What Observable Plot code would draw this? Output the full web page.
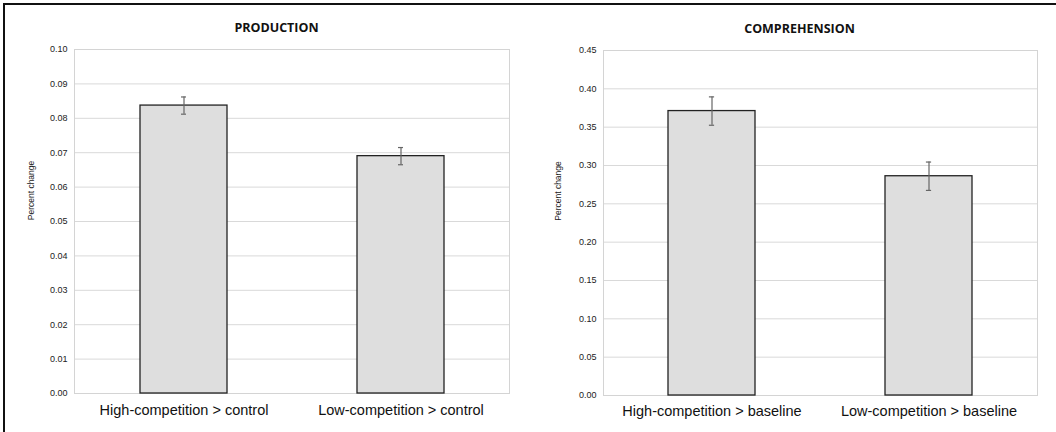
<!DOCTYPE html>
<html>
<head>
<meta charset="utf-8">
<script src="https://cdn.jsdelivr.net/npm/d3@7"></script>
<script src="https://cdn.jsdelivr.net/npm/@observablehq/plot@0.6"></script>
<style>
  html, body { margin: 0; padding: 0; background: #fff; }
  #wrap { position: relative; width: 1056px; height: 432px; overflow: hidden; background: #fff; }
  #border { position: absolute; left: 3px; top: 3px; width: 1060px; height: 440px;
            border-left: 2px solid #111; border-top: 2px solid #111; box-sizing: border-box; }
  .panel { position: absolute; top: 0; }
  #left { left: 0; }
  #right { left: 528px; }
</style>
</head>
<body>
<div id="wrap">
  <div id="left" class="panel"></div>
  <div id="right" class="panel"></div>
  <div id="border"></div>
</div>
<script>
// ---- data ----
const productionTitle = "PRODUCTION";
const productionCategories = ["High-competition > control", "Low-competition > control"];
const productionValues = [0.0837, 0.0690];
const productionErrors = [0.0025, 0.0025];
const productionTicks = [0, 0.01, 0.02, 0.03, 0.04, 0.05, 0.06, 0.07, 0.08, 0.09, 0.10];

const comprehensionTitle = "COMPREHENSION";
const comprehensionCategories = ["High-competition > baseline", "Low-competition > baseline"];
const comprehensionValues = [0.371, 0.286];
const comprehensionErrors = [0.0185, 0.0185];
const comprehensionTicks = [0, 0.05, 0.10, 0.15, 0.20, 0.25, 0.30, 0.35, 0.40, 0.45];

const yLabel = "Percent change";

function panel({title, cats, vals, errs, ticks, marginLeft, marginTop, marginBottom, titleDx, labelDx, labelDy, xPad}) {
  const data = cats.map((c, i) => ({cat: c, val: vals[i], err: errs[i]}));
  const ymax = ticks[ticks.length - 1];
  const innerW = 528 - marginLeft - 19;
  const bw = innerW / 2 * 0.4;
  const capInset = (bw - 5) / 2;
  return Plot.plot({
    width: 528,
    height: 432,
    marginLeft, marginRight: 19, marginTop, marginBottom,
    style: {fontFamily: "'Liberation Sans', Arial, sans-serif", background: "transparent", color: "#222"},
    x: {domain: cats, paddingInner: 0.6, paddingOuter: 0.3, label: null, axis: null},
    y: {domain: [0, ymax], label: null, axis: null},
    marks: [
      Plot.gridY(ticks, {stroke: "#d9d9d9", strokeOpacity: 1, strokeWidth: 1}),
      Plot.frame({stroke: "#d4d4d4", strokeWidth: 1}),
      Plot.barY(data, {x: "cat", y: "val", fill: "#dedede", stroke: "#222", strokeWidth: 1.3}),
      Plot.ruleX(data, {x: "cat", y1: d => d.val - d.err, y2: d => d.val + d.err, stroke: "#666", strokeWidth: 1.2}),
      Plot.tickY(data, {x: "cat", y: d => d.val - d.err, insetLeft: capInset, insetRight: capInset, stroke: "#666", strokeWidth: 1.2}),
      Plot.tickY(data, {x: "cat", y: d => d.val + d.err, insetLeft: capInset, insetRight: capInset, stroke: "#666", strokeWidth: 1.2}),
      Plot.axisY(ticks, {tickSize: 0, tickPadding: 7, tickFormat: d3.format(".2f"), fontSize: 9, label: null, fill: "#222"}),
      Plot.axisX({tickSize: 0, tickPadding: xPad, fontSize: 14.5, label: null, fill: "#111"}),
      Plot.text([title], {frameAnchor: "top", dx: titleDx, dy: -18, lineAnchor: "bottom", fontWeight: "bold", fontSize: 12.5, fontFamily: "'Open Sans', sans-serif", fill: "#111"}),
      Plot.text([yLabel], {frameAnchor: "left", textAnchor: "middle", rotate: -90, dx: labelDx, dy: labelDy, fontSize: 8.5, fill: "#222"})
    ]
  });
}

document.getElementById("left").append(panel({
  title: productionTitle, cats: productionCategories, vals: productionValues, errs: productionErrors,
  ticks: productionTicks, marginLeft: 74, marginTop: 49, marginBottom: 39,
  titleDx: -15.5, labelDx: -43, labelDy: -31, xPad: 11
}));
document.getElementById("right").append(panel({
  title: comprehensionTitle, cats: comprehensionCategories, vals: comprehensionValues, errs: comprehensionErrors,
  ticks: comprehensionTicks, marginLeft: 75, marginTop: 50, marginBottom: 37,
  titleDx: -21, labelDx: -45, labelDy: -32, xPad: 10
}));
</script>
</body>
</html>
